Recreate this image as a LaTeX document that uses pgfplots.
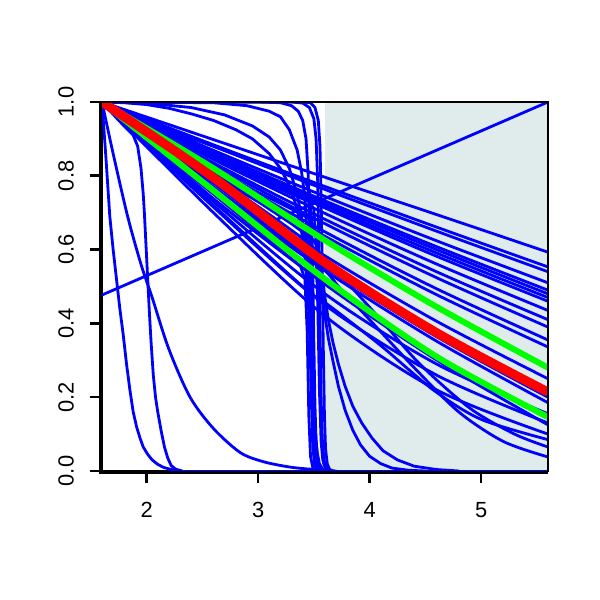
\documentclass[border=0pt]{standalone}
\usepackage{fontspec}
\setmainfont{Liberation Sans}
\usepackage{pgfplots}
\pgfplotsset{compat=1.18}
\definecolor{shade}{HTML}{E0ECEC}
\definecolor{rblue}{HTML}{0000FF}
\definecolor{rred}{HTML}{FF0000}
\definecolor{rgreen}{HTML}{00FF00}
\pgfplotsset{
  bl/.style={rblue, line width=2.8bp, line join=round, line cap=round},
  bls/.style={rblue, line width=2.8bp, line join=round, line cap=round, smooth},
}
\begin{document}
\begin{tikzpicture}
\path[use as bounding box] (-102bp,-129bp) rectangle (498bp,471bp);
\begin{axis}[name=ax, scale only axis, width=446bp, height=369bp,
  xmin=1.6, xmax=5.6, ymin=0, ymax=1,
  xtick={2,3,4,5}, xticklabels={2,3,4,5},
  ytick={0,0.2,0.4,0.6,0.8,1}, yticklabels={0.0,0.2,0.4,0.6,0.8,1.0},
  tick pos=left, tick align=outside, major tick length=12bp,
  tick style={line width=2.6bp, black},
  axis line style={line width=1.8bp},
  tick label style={font=\fontsize{22}{24}\selectfont},
  yticklabel style={rotate=90, anchor=south, inner sep=0pt},
  xticklabel style={anchor=north, inner sep=0pt},
  xticklabel shift=19bp, yticklabel shift=16bp,
  no markers]
% shaded region
\addplot[draw=none, fill=shade] coordinates {(3.6,1) (5.6,1)} \closedcycle;
% rising line
\addplot[bl] coordinates {(1.6,0.477) (5.6,1.0)};
% zero tail
\addplot[bl] coordinates {(2.2,0) (5.6,0)};
% gentle decays
\addplot[bls] coordinates {(1.6,1) (2.6,0.898) (3.6,0.796) (4.6,0.695) (5.6,0.593)};
\addplot[bls] coordinates {(1.6,1) (2.6,0.884) (3.6,0.771) (4.6,0.661) (5.6,0.553)};
\addplot[bls] coordinates {(1.6,1) (2.6,0.880) (3.6,0.763) (4.6,0.650) (5.6,0.540)};
\addplot[bls] coordinates {(1.6,1) (2.6,0.869) (3.6,0.744) (4.6,0.624) (5.6,0.510)};
\addplot[bls] coordinates {(1.6,1) (2.6,0.863) (3.6,0.732) (4.6,0.608) (5.6,0.490)};
\addplot[bls] coordinates {(1.6,1) (2.6,0.860) (3.6,0.726) (4.6,0.600) (5.6,0.480)};
\addplot[bls] coordinates {(1.6,1) (2.6,0.856) (3.6,0.719) (4.6,0.591) (5.6,0.470)};
\addplot[bls] coordinates {(1.6,1) (2.6,0.852) (3.6,0.713) (4.6,0.582) (5.6,0.460)};
\addplot[bls] coordinates {(1.6,1) (2.6,0.844) (3.6,0.698) (4.6,0.561) (5.6,0.435)};
\addplot[bls] coordinates {(1.6,1) (2.6,0.835) (3.6,0.682) (4.6,0.540) (5.6,0.410)};
\addplot[bls] coordinates {(1.6,1) (2.6,0.829) (3.6,0.670) (4.6,0.524) (5.6,0.390)};
\addplot[bls] coordinates {(1.6,1) (2.6,0.817) (3.6,0.648) (4.6,0.494) (5.6,0.355)};
\addplot[bls] coordinates {(1.6,1) (2.6,0.810) (3.6,0.636) (4.6,0.478) (5.6,0.336)};
\addplot[bls] coordinates {(1.6,1) (2.6,0.781) (3.6,0.583) (4.6,0.406) (5.6,0.250)};
\addplot[bls] coordinates {(1.6,1) (2.6,0.764) (3.6,0.552) (4.6,0.364) (5.6,0.200)};
\addplot[bls] coordinates {(1.6,1) (2.6,0.759) (3.6,0.543) (4.6,0.352) (5.6,0.185)};
\addplot[bls] coordinates {(1.6,1) (2.6,0.738) (3.6,0.506) (4.6,0.301) (5.6,0.125)};
% steeper decays
\addplot[bls] coordinates {(1.6,1) (2.6,0.700) (3.6,0.420) (4.6,0.220) (5.6,0.100)};
\addplot[bls] coordinates {(1.6,1) (2.6,0.715) (3.6,0.450) (4.6,0.260) (5.6,0.130)};
\addplot[bls] coordinates {(1.6,1) (2.6,0.730) (3.6,0.480) (4.6,0.290) (5.6,0.155)};
% crossing decays
\addplot[bls] coordinates {(1.6,1) (2.6,0.80) (3.4,0.63) (3.6,0.57) (3.8,0.51) (4.1,0.41) (4.45,0.29) (4.9,0.17) (5.3,0.10) (5.6,0.065)};
\addplot[bls] coordinates {(1.6,1) (2.6,0.72) (3.4,0.50) (3.63,0.45) (4.1,0.34) (4.57,0.22) (5.0,0.14) (5.6,0.085)};
\addplot[bls] coordinates {(1.6,1) (2.6,0.77) (3.5,0.57) (3.75,0.49) (4.0,0.41) (4.4,0.28) (4.8,0.16) (5.2,0.08) (5.6,0.038)};
% partial drops then decay
\addplot[bl] coordinates {(1.6,1) (2.1,0.905) (2.6,0.82) (3.0,0.755) (3.3,0.71) (3.45,0.685) (3.5,0.665) (3.53,0.63) (3.555,0.56) (3.575,0.49) (3.6,0.42) (3.63,0.36) (3.67,0.3) (3.72,0.23) (3.78,0.165) (3.85,0.11) (3.92,0.07) (4.0,0.04) (4.1,0.02) (4.2,0.008) (4.35,0.002) (4.5,0)};
\addplot[bl] coordinates {(1.6,1) (2.1,0.895) (2.6,0.80) (3.0,0.73) (3.3,0.67) (3.5,0.625) (3.54,0.6) (3.57,0.54) (3.6,0.47) (3.63,0.41) (3.67,0.35) (3.72,0.29) (3.78,0.23) (3.85,0.175) (3.93,0.13) (4.02,0.09) (4.12,0.055) (4.25,0.03) (4.4,0.013) (4.6,0.004) (4.8,0)};
% cliffs
\addplot[bl] coordinates {(1.6,1) (2.1,0.935) (2.6,0.88) (3.0,0.835) (3.3,0.80) (3.42,0.785) (3.46,0.76) (3.48,0.68) (3.49,0.55) (3.5,0.35) (3.51,0.18) (3.52,0.08) (3.535,0.03) (3.55,0.01) (3.58,0)};
\addplot[bl] coordinates {(1.6,1) (2.1,0.92) (2.6,0.85) (3.0,0.79) (3.3,0.75) (3.46,0.73) (3.5,0.71) (3.52,0.62) (3.535,0.45) (3.55,0.22) (3.565,0.08) (3.58,0.03) (3.6,0.01) (3.63,0)};
\addplot[bl] coordinates {(1.6,1) (2.1,0.9) (2.6,0.81) (3.0,0.73) (3.3,0.68) (3.41,0.66) (3.44,0.62) (3.46,0.45) (3.475,0.22) (3.49,0.07) (3.505,0.02) (3.53,0)};
\addplot[bl] coordinates {(1.6,1) (2.1,0.885) (2.6,0.78) (3.0,0.69) (3.3,0.63) (3.48,0.595) (3.52,0.57) (3.545,0.42) (3.56,0.2) (3.575,0.07) (3.59,0.02) (3.62,0)};
\addplot[bl] coordinates {(1.6,1) (2.1,0.87) (2.6,0.75) (3.0,0.65) (3.3,0.575) (3.38,0.555) (3.42,0.52) (3.44,0.38) (3.455,0.15) (3.47,0.04) (3.49,0.01) (3.51,0)};
% plateaus
\addplot[bl] coordinates {(1.6,1) (3.0,1) (3.2,0.998) (3.3,0.99) (3.36,0.975) (3.4,0.95) (3.43,0.9) (3.45,0.8) (3.465,0.6) (3.48,0.35) (3.49,0.18) (3.5,0.08) (3.515,0.03) (3.53,0.01) (3.56,0)};
\addplot[bl] coordinates {(1.6,1) (3.3,1) (3.4,0.997) (3.46,0.985) (3.5,0.955) (3.52,0.9) (3.535,0.78) (3.545,0.6) (3.555,0.4) (3.565,0.2) (3.575,0.09) (3.59,0.03) (3.61,0.01) (3.64,0)};
\addplot[bl] coordinates {(1.6,1) (2.6,0.998) (2.9,0.99) (3.1,0.975) (3.2,0.96) (3.28,0.925) (3.35,0.87) (3.39,0.81) (3.42,0.74) (3.445,0.6) (3.46,0.45) (3.475,0.28) (3.49,0.14) (3.505,0.06) (3.52,0.025) (3.54,0.008) (3.57,0)};
\addplot[bl] coordinates {(1.6,1) (1.8,0.998) (2.0,0.993) (2.2,0.983) (2.4,0.968) (2.6,0.95) (2.8,0.925) (2.95,0.9) (3.1,0.86) (3.2,0.82) (3.27,0.78) (3.33,0.73) (3.38,0.67) (3.42,0.58) (3.45,0.46) (3.47,0.32) (3.49,0.18) (3.51,0.08) (3.53,0.03) (3.56,0.008) (3.6,0)};
\addplot[bl] coordinates {(1.6,1) (2.0,0.997) (2.4,0.985) (2.7,0.965) (2.95,0.935) (3.1,0.905) (3.2,0.87) (3.28,0.82) (3.35,0.75) (3.4,0.67) (3.44,0.55) (3.47,0.4) (3.49,0.25) (3.51,0.12) (3.53,0.05) (3.55,0.02) (3.58,0.005) (3.62,0)};
\addplot[bl] coordinates {(1.6,1) (3.4,1) (3.47,0.998) (3.51,0.985) (3.54,0.95) (3.555,0.88) (3.565,0.75) (3.575,0.55) (3.585,0.33) (3.595,0.15) (3.605,0.06) (3.62,0.02) (3.64,0.005) (3.67,0)};
% early drops
\addplot[bl] coordinates {(1.6,1) (1.635,0.85) (1.67,0.69) (1.7,0.6) (1.73,0.52) (1.76,0.44) (1.79,0.37) (1.82,0.29) (1.85,0.22) (1.88,0.16) (1.91,0.12) (1.94,0.09) (1.97,0.065) (2.01,0.045) (2.05,0.03) (2.1,0.018) (2.15,0.01) (2.22,0.004) (2.3,0)};
\addplot[bl] coordinates {(1.6,1) (1.75,0.95) (1.88,0.91) (1.92,0.88) (1.95,0.82) (1.97,0.75) (1.98,0.7) (1.995,0.61) (2.01,0.52) (2.025,0.43) (2.04,0.35) (2.06,0.26) (2.08,0.2) (2.1,0.16) (2.13,0.11) (2.16,0.065) (2.19,0.035) (2.22,0.015) (2.26,0.005) (2.32,0)};
\addplot[bls] coordinates {(1.6,1) (1.7,0.86) (1.83,0.69) (1.95,0.56) (2.05,0.47) (2.2,0.33) (2.39,0.2) (2.6,0.115) (2.84,0.05) (3.05,0.025) (3.3,0.01) (3.55,0.003) (3.7,0)};
% highlighted curves
\addplot[rgreen, line width=6bp, smooth] coordinates {(1.6,1) (2.6,0.82) (3.6,0.625) (4.6,0.445) (5.6,0.28)};
\addplot[rgreen, line width=6bp, smooth] coordinates {(1.6,1) (2.6,0.76) (3.6,0.52) (4.6,0.31) (5.6,0.146)};
\addplot[rred, line width=9bp, smooth] coordinates {(1.6,1) (2.6,0.795) (3.6,0.565) (4.6,0.375) (5.6,0.214)};
\end{axis}
\draw[line width=2bp] (ax.north west) -- (ax.north east) -- (ax.south east);
\draw[line width=3bp] ([xshift=-1.5bp]ax.north west) -- ([xshift=-1.5bp,yshift=-1.5bp]ax.south west) -- ([yshift=-1.5bp]ax.south east);
\end{tikzpicture}
\end{document}
